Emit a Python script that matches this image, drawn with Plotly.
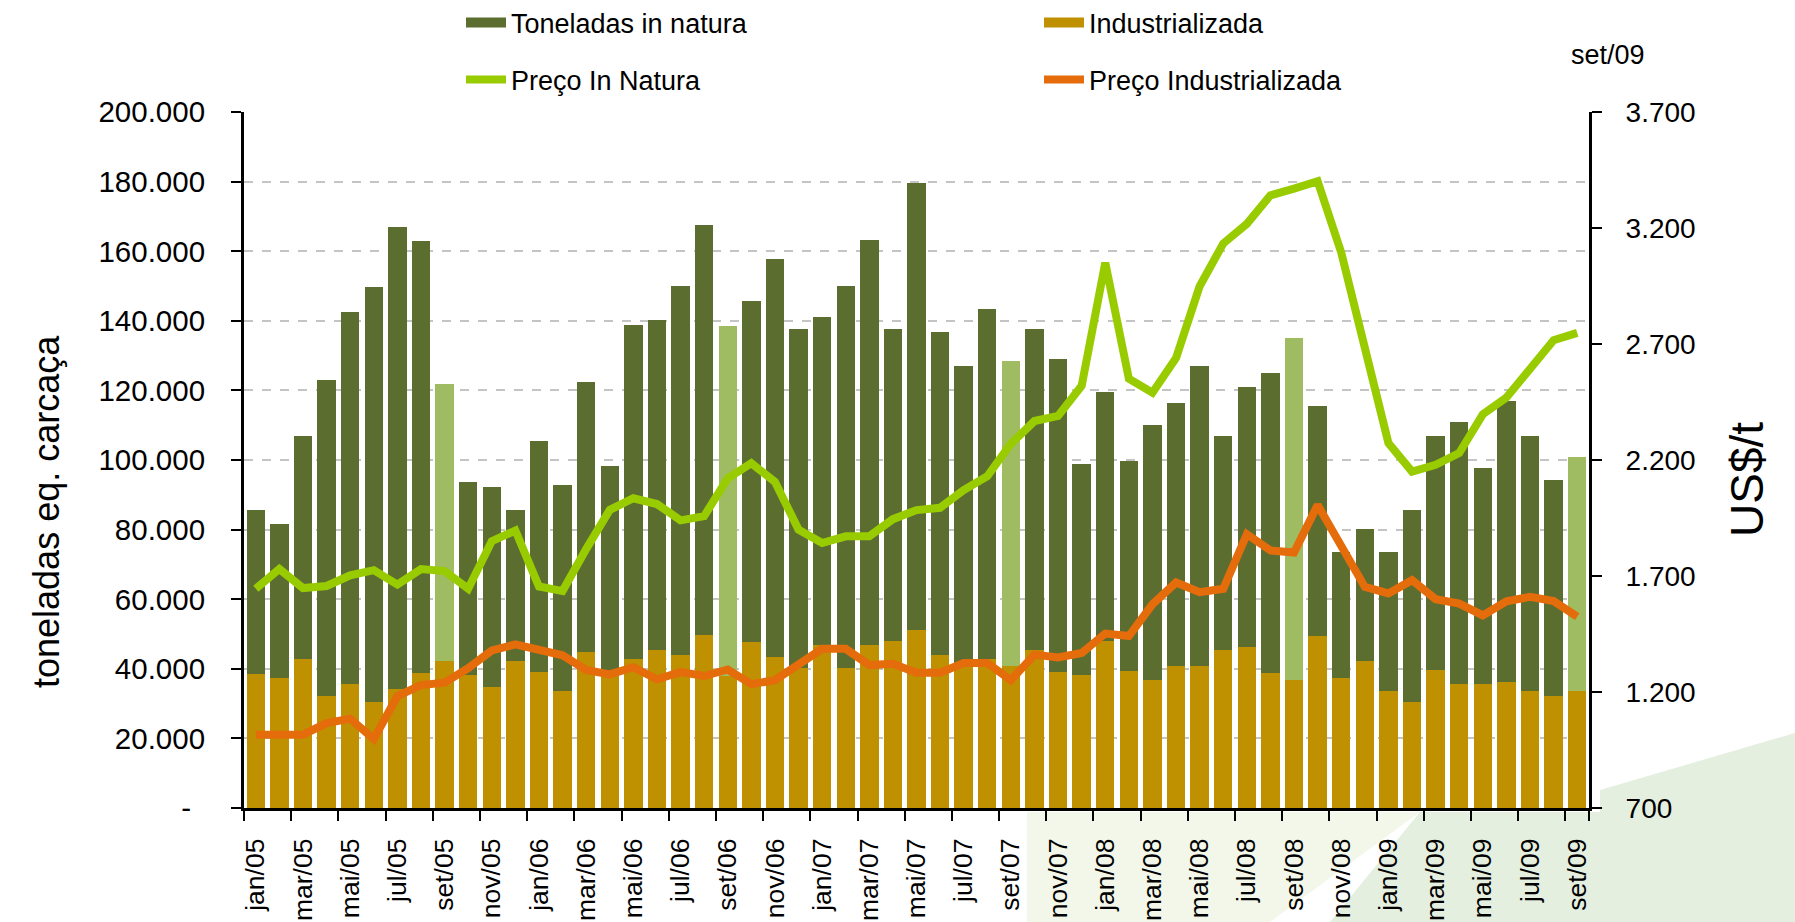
import plotly.graph_objects as go

meses = [
    "jan/05", "fev/05", "mar/05", "abr/05", "mai/05", "jun/05", "jul/05", "ago/05", "set/05", "out/05", "nov/05", "dez/05",
    "jan/06", "fev/06", "mar/06", "abr/06", "mai/06", "jun/06", "jul/06", "ago/06", "set/06", "out/06", "nov/06", "dez/06",
    "jan/07", "fev/07", "mar/07", "abr/07", "mai/07", "jun/07", "jul/07", "ago/07", "set/07", "out/07", "nov/07", "dez/07",
    "jan/08", "fev/08", "mar/08", "abr/08", "mai/08", "jun/08", "jul/08", "ago/08", "set/08", "out/08", "nov/08", "dez/08",
    "jan/09", "fev/09", "mar/09", "abr/09", "mai/09", "jun/09", "jul/09", "ago/09", "set/09",
]

# toneladas eq. carcaça
industrializada = [
    38500, 37500, 42900, 32200, 35600, 30400, 34200, 38800, 42200, 38300, 34900, 42200,
    39100, 33600, 44700, 39500, 42700, 45300, 44000, 49800, 38000, 47800, 43400, 40300,
    46700, 40300, 46700, 47900, 51200, 44100, 41700, 42700, 40800, 45300, 39000, 38300,
    48100, 39500, 36900, 40900, 40900, 45500, 46300, 38900, 36800, 49500, 37500, 42300,
    33600, 30400, 39600, 35700, 35700, 36200, 33600, 32300, 33600,
]
in_natura = [
    47100, 44100, 64000, 90700, 106800, 119300, 132800, 124200, 79500, 55300, 57400, 43400,
    66400, 59300, 77600, 58900, 96200, 95000, 106100, 117800, 100400, 97800, 114500, 97400,
    94300, 109800, 116600, 89800, 128500, 92800, 85300, 100800, 87600, 92300, 89900, 60600,
    71400, 60100, 73300, 75400, 86100, 61500, 74700, 86000, 98400, 66100, 36100, 38000,
    40000, 55200, 67400, 75200, 62000, 80700, 73400, 62000, 67400,
]

# US$/t
preco_in_natura = [
    1645, 1730, 1648, 1657, 1703, 1725, 1663, 1730, 1721, 1645, 1850, 1896,
    1655, 1635, 1816, 1985, 2035, 2010, 1940, 1958, 2121, 2186, 2106, 1900,
    1842, 1871, 1871, 1945, 1984, 1994, 2070, 2130, 2270, 2368, 2390, 2520,
    3050, 2550, 2490, 2640, 2949, 3133, 3218, 3341, 3370, 3402, 3094, 2673,
    2273, 2150, 2179, 2230, 2397, 2469, 2586, 2716, 2748,
]
preco_industrializada = [
    1016, 1016, 1016, 1066, 1085, 997, 1182, 1230, 1240, 1303, 1379, 1405,
    1383, 1358, 1295, 1276, 1307, 1255, 1286, 1269, 1297, 1234, 1251, 1316,
    1386, 1386, 1316, 1322, 1283, 1283, 1325, 1325, 1251, 1361, 1349, 1368,
    1452, 1441, 1578, 1672, 1630, 1645, 1880, 1810, 1801, 2006, 1834, 1653,
    1625, 1682, 1600, 1581, 1530, 1591, 1610, 1592, 1525,
]

meses_destaque = ["set/05", "set/06", "set/07", "set/08", "set/09"]
rotulos_x = meses[::2]

y1_ticks = [0, 20000, 40000, 60000, 80000, 100000, 120000, 140000, 160000, 180000, 200000]
y1_text = ["-\u00a0\u2009", "20.000", "40.000", "60.000", "80.000", "100.000", "120.000",
           "140.000", "160.000", "180.000", "200.000"]
y2_ticks = [700, 1200, 1700, 2200, 2700, 3200, 3700]
y2_text = ["700", "1.200", "1.700", "2.200", "2.700", "3.200", "3.700"]

VERDE = "#5B6E30"
VERDE_CLARO = "#A0BC62"
OURO = "#BF9000"
LIMA = "#99CC00"
LARANJA = "#E46C0A"
FONT = "Liberation Sans, Arial, sans-serif"

cores_natura = [VERDE_CLARO if m in meses_destaque else VERDE for m in meses]

W, H = 1795, 922
L, R, T, B = 244, 1589, 112, 808


def px(x):
    return (x - L) / (R - L)


def py(y):
    return (B - y) / (B - T)


fig = go.Figure()
fig.add_bar(x=meses, y=industrializada, name="Industrializada", marker=dict(color=OURO, line=dict(width=0)),
            showlegend=False)
fig.add_bar(x=meses, y=in_natura, name="Toneladas in natura", marker=dict(color=cores_natura, line=dict(width=0)),
            showlegend=False)
fig.add_scatter(x=meses, y=preco_in_natura, yaxis="y2", mode="lines", name="Preço In Natura",
                line=dict(color=LIMA, width=8), legend="legend2", legendrank=1)
fig.add_scatter(x=meses, y=preco_industrializada, yaxis="y2", mode="lines", name="Preço Industrializada",
                line=dict(color=LARANJA, width=8), legend="legend2", legendrank=2)
# legend keys for the bar series (wide rectangular swatches like the original)
fig.add_scatter(x=[None], y=[None], mode="lines", name="Toneladas in natura",
                line=dict(color=VERDE, width=14), legend="legend", legendrank=1, hoverinfo="skip")
fig.add_scatter(x=[None], y=[None], mode="lines", name="Industrializada",
                line=dict(color=OURO, width=14), legend="legend", legendrank=2, hoverinfo="skip")


def poly(points):
    return "M " + " L ".join(f"{px(a):.4f},{py(b):.4f}" for a, b in points) + " Z"


shapes = [
    dict(type="path", xref="paper", yref="paper", layer="below", line=dict(width=0), fillcolor="#F2F7EA",
         path=poly([(1027, 812), (1027, 922), (1270, 922), (1420, 812)])),
    dict(type="path", xref="paper", yref="paper", layer="below", line=dict(width=0), fillcolor="#E4EFE0",
         path=poly([(1330, 922), (1420, 812), (1600, 812), (1600, 790), (1795, 733), (1795, 922)])),
]

legend_common = dict(orientation="h", xref="container", yref="container", xanchor="left", yanchor="middle",
                     entrywidth=523, entrywidthmode="pixels",
                     font=dict(family=FONT, size=27, color="black"), bgcolor="rgba(0,0,0,0)",
                     traceorder="normal", itemwidth=40)

fig.update_layout(
    width=W, height=H,
    margin=dict(l=L, r=W - R, t=T, b=H - B, pad=0, autoexpand=False),
    paper_bgcolor="white", plot_bgcolor="rgba(0,0,0,0)",
    barmode="stack", bargap=0.22,
    font=dict(family=FONT, size=28, color="black"),
    showlegend=True,
    legend=dict(x=461 / W, y=1 - 23 / H, **legend_common),
    legend2=dict(x=461 / W, y=1 - 80 / H, **legend_common),
    shapes=shapes,
    xaxis=dict(type="category", categoryorder="array", categoryarray=meses, tickvals=rotulos_x,
               tickangle=-90, tickson="boundaries", ticks="outside", ticklen=10, tickwidth=2, tickcolor="black",
               showline=True, linecolor="black", linewidth=3, showgrid=False, zeroline=False, automargin=False,
               tickfont=dict(family=FONT, size=26.5), ticklabelstandoff=17),
    yaxis=dict(range=[0, 200000], tickvals=y1_ticks, ticktext=y1_text, showgrid=True, gridcolor="#C4C4C4",
               griddash="dash", gridwidth=2, showline=True, linecolor="black", linewidth=3, ticks="outside",
               ticklen=10, tickwidth=2, tickcolor="black", zeroline=False, automargin=False,
               tickfont=dict(family=FONT, size=29.5), ticklabelstandoff=20),
    yaxis2=dict(range=[700, 3700], overlaying="y", side="right", tickvals=y2_ticks, ticktext=y2_text,
                showgrid=False, showline=True, linecolor="black", linewidth=3, ticks="outside", ticklen=10,
                tickwidth=2, tickcolor="black", zeroline=False, automargin=False,
                tickfont=dict(family=FONT, size=28), ticklabelstandoff=18),
    annotations=[
        dict(text="toneladas eq. carcaça", xref="paper", yref="paper", x=px(46), y=py(511), textangle=-90,
             showarrow=False, xanchor="center", yanchor="middle", font=dict(family=FONT, size=36)),
        dict(text="US$/t", xref="paper", yref="paper", x=px(1747), y=py(479), textangle=-90,
             showarrow=False, xanchor="center", yanchor="middle", font=dict(family=FONT, size=46)),
        dict(text="set/09", xref="paper", yref="paper", x=px(1608), y=py(55), showarrow=False,
             xanchor="center", yanchor="middle", font=dict(family=FONT, size=27)),
    ],
)

fig.write_html("out.html", config={"displayModeBar": False},
               post_script="document.body.style.margin='0';document.body.style.overflow='hidden';")
